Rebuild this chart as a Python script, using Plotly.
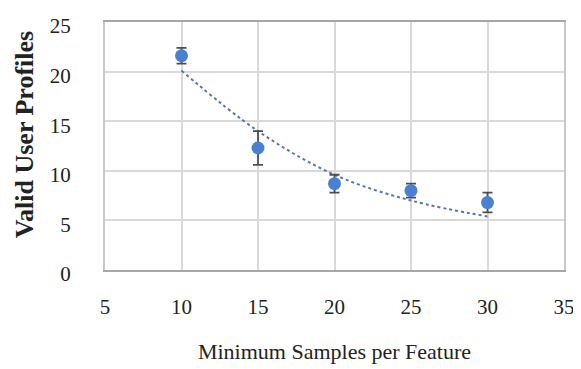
import plotly.graph_objects as go

x_vals = [10, 15, 20, 25, 30]
y_vals = [21.6, 12.3, 8.7, 8.0, 6.8]
y_err = [0.8, 1.7, 0.9, 0.7, 1.0]
trend_vals = [20.1, 14.0, 9.6, 7.0, 5.4]

x_ticks = [5, 10, 15, 20, 25, 30, 35]
y_ticks = [0, 5, 10, 15, 20, 25]

font_family = "Liberation Serif, Times New Roman, serif"

fig = go.Figure()
fig.add_trace(go.Scatter(
    x=x_vals, y=trend_vals, mode="lines", line_shape="spline",
    line=dict(color="#5577B0", width=2, dash="dot"), showlegend=False, hoverinfo="skip"))
fig.add_trace(go.Scatter(
    x=x_vals, y=y_vals, mode="markers",
    marker=dict(color="#4A80D4", size=13),
    error_y=dict(type="data", array=y_err, color="#4D4D4D", thickness=1.8, width=5),
    showlegend=False))

fig.update_layout(
    width=573, height=361,
    margin=dict(l=97, r=13, t=6, b=99),
    paper_bgcolor="white", plot_bgcolor="white",
    font=dict(family=font_family, size=21, color="#222222"),
    xaxis=dict(range=[5, 35], tickvals=x_ticks, showgrid=True, gridcolor="#D9D9D9", gridwidth=1.5,
               showline=True, linecolor="#A6A6A6", linewidth=2, mirror=True, zeroline=False,
               ticks="", ticklabelstandoff=17, tickfont=dict(size=21), ticklabeloverflow="allow",
               title=dict(text="Minimum Samples per Feature", font=dict(size=22), standoff=25)),
    yaxis=dict(range=[0, 25], tickvals=y_ticks, showgrid=True, gridcolor="#D9D9D9", gridwidth=1.5,
               showline=True, linecolor="#C8C8C8", linewidth=2, mirror=True, zeroline=False,
               ticks="", ticklabelstandoff=28, ticklabelshift=4, tickfont=dict(size=21),
               ticklabeloverflow="allow"),
    annotations=[dict(text="<b>Valid User Profiles</b>", textangle=-90, font=dict(size=26),
                      xref="paper", yref="paper", x=0, y=0.547, xanchor="center", yanchor="middle",
                      xshift=-81, showarrow=False)],
)
fig.write_html("out.html")
